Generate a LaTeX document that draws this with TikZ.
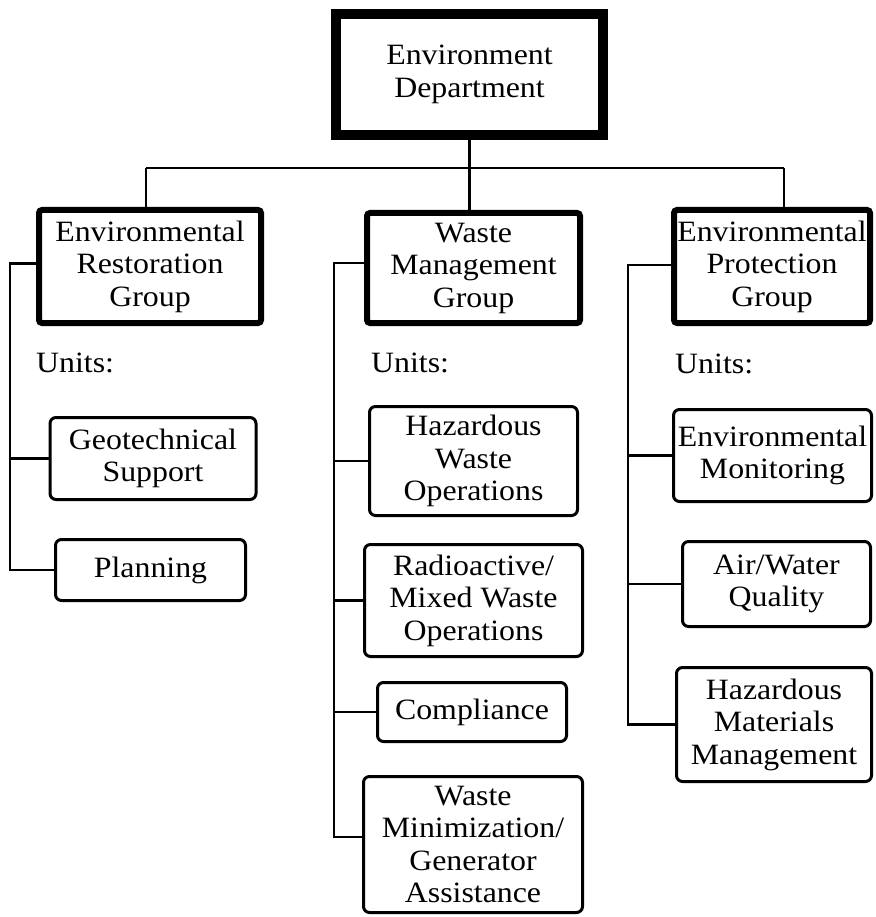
\documentclass[tikz,border=0pt]{standalone}
\usepackage{fontspec}
\setmainfont[FakeStretch=1.08]{Liberation Serif}
\begin{document}
\begin{tikzpicture}[x=1pt,y=-1pt,
  txt/.style={font=\fontsize{29.5}{32.5}\selectfont, align=center, inner sep=0pt},
  topbox/.style={txt, draw, line width=10pt},
  grpbox/.style={txt, draw, line width=6pt, rounded corners=3pt},
  unitbox/.style={txt, draw, line width=3pt, rounded corners=6pt},
  conn/.style={line width=2.6pt},
  lbl/.style={font=\fontsize{29.5}{32.5}\selectfont, inner sep=0pt, anchor=base west}]
\useasboundingbox (0,0) rectangle (875,917);

\node[topbox, minimum width=267pt, minimum height=121pt] (top) at (469.5,74.5) {Environment\\Department};

\node[grpbox, minimum width=222pt, minimum height=113pt] (ER) at (150,266.5) {Environmental\\Restoration\\Group};
\node[grpbox, minimum width=213pt, minimum height=110pt] (WM) at (473.5,268) {Waste\\Management\\Group};
\node[grpbox, minimum width=196pt, minimum height=113pt] (EP) at (772,266.5) {Environmental\\Protection\\Group};

\node[lbl] (u1) at (36,372) {Units:};
\node[lbl] (u2) at (371,372) {Units:};
\node[lbl] (u3) at (675,373) {Units:};

\node[unitbox, minimum width=206pt, minimum height=82pt] (GS) at (153,458.5) {Geotechnical\\Support};
\node[unitbox, minimum width=190pt, minimum height=61pt] (PL) at (150.5,570) {Planning};

\node[unitbox, minimum width=208pt, minimum height=109pt] (HW) at (473.5,461) {Hazardous\\Waste\\Operations};
\node[unitbox, minimum width=218pt, minimum height=112pt] (RM) at (473.5,600.5) {Radioactive/\\Mixed Waste\\Operations};
\node[unitbox, minimum width=189pt, minimum height=59pt] (CO) at (472,712) {Compliance};
\node[unitbox, minimum width=219pt, minimum height=136pt] (WX) at (473,844.5) {Waste\\Minimization/\\Generator\\Assistance};

\node[unitbox, minimum width=198pt, minimum height=92pt] (EM) at (772.5,455.5) {Environmental\\Monitoring};
\node[unitbox, minimum width=188pt, minimum height=85pt] (AW) at (776.5,584) {Air/Water\\Quality};
\node[unitbox, minimum width=195pt, minimum height=114pt] (HM) at (774,724.5) {Hazardous\\Materials\\Management};

% top-level connectors
\coordinate (busL) at (146,168);
\coordinate (busR) at (784,168);
\draw[conn] (busL) -- (busR);
\draw[conn] (top.south) -- (top.south |- WM.north);
\draw[conn] (busL) -- (busL |- ER.north);
\draw[conn] (busR) -- (busR |- EP.north);

% left bracket
\coordinate (bl) at (10,0);
\draw[conn] ([yshift=3pt]ER.west) -| (bl |- PL.west) -- (PL.west);
\draw[conn] (bl |- GS.west) -- (GS.west);

% middle bracket
\coordinate (bm) at (334,0);
\coordinate (wxs) at ([yshift=7.5pt]WX.west);
\draw[conn] ([yshift=5pt]WM.west) -| (bm |- wxs) -- (wxs);
\draw[conn] (bm |- HW.west) -- (HW.west);
\draw[conn] (bm |- RM.west) -- (RM.west);
\draw[conn] (bm |- CO.west) -- (CO.west);

% right bracket
\coordinate (br) at (628,0);
\draw[conn] ([yshift=1.5pt]EP.west) -| (br |- HM.west) -- (HM.west);
\draw[conn] (br |- EM.west) -- (EM.west);
\draw[conn] (br |- AW.west) -- (AW.west);
\end{tikzpicture}
\end{document}
